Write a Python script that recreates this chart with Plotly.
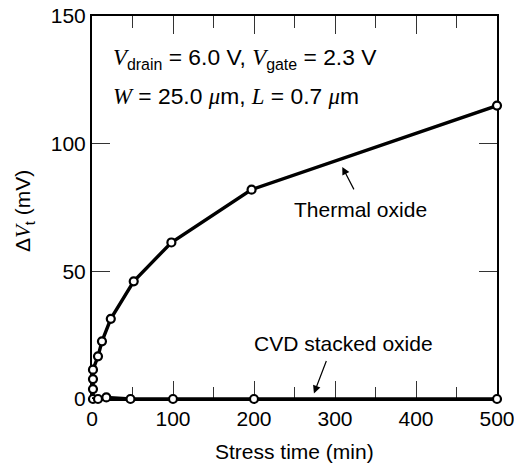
import plotly.graph_objects as go

# Threshold-voltage shift vs. stress time for two gate oxides
thermal_time = [1.2, 1.2, 1.2, 1.2, 7.4, 12.3, 23.2, 51.5, 98, 197, 500]
thermal_dvt = [0, 3.9, 7.8, 11.5, 16.7, 22.6, 31.4, 46.1, 61.3, 82, 114.9]

cvd_time = [-2.8, 7.4, 17.7, 47.5, 100, 200, 500]
cvd_dvt = [0, 0, 0.6, 0, 0, 0, 0]

x_ticks = [0, 100, 200, 300, 400, 500]
x_minor_ticks = [50, 150, 250, 350, 450]
y_ticks = [0, 50, 100, 150]

SANS = "Liberation Sans, Arial, sans-serif"
SERIF_I = "font-family:Liberation Serif;font-style:italic"
FS = 21

fig = go.Figure()
for xs, ys in [(thermal_time, thermal_dvt), (cvd_time, cvd_dvt)]:
    fig.add_trace(go.Scatter(
        x=xs, y=ys, mode="lines+markers",
        line=dict(color="black", width=3.4),
        marker=dict(symbol="circle", size=8, color="white",
                    line=dict(color="black", width=2.2)),
        cliponaxis=False, showlegend=False,
    ))

# Empty traces that keep the extra tick-only axes alive
for xa, ya in [("x2", "y"), ("x3", "y"), ("x4", "y"), ("x", "y2")]:
    fig.add_trace(go.Scatter(x=[None], y=[None], xaxis=xa, yaxis=ya,
                             showlegend=False, hoverinfo="skip"))

tick_style = dict(ticks="inside", tickcolor="#333", tickwidth=1, automargin=False,
                  showgrid=False, zeroline=False, layer="below traces")
label_font = dict(family=SANS, size=FS, color="black")

fig.update_layout(
    xaxis=dict(range=[0, 500], tickvals=x_ticks, ticklen=18,
               showline=True, linecolor="black", linewidth=2, mirror=True,
               tickfont=label_font, ticklabeloverflow="allow", **tick_style),
    yaxis=dict(range=[0, 150], tickvals=y_ticks, ticklen=18,
               showline=True, linecolor="black", linewidth=2, mirror=True,
               tickfont=label_font, **tick_style),
    # minor ticks along the bottom
    xaxis2=dict(range=[0, 500], overlaying="x", side="bottom", tickvals=x_minor_ticks,
                ticklen=12, showticklabels=False, showline=False, **tick_style),
    # major and minor ticks along the top
    xaxis3=dict(range=[0, 500], overlaying="x", side="top", tickvals=x_ticks[1:-1],
                ticklen=18, showticklabels=False, showline=False, **tick_style),
    xaxis4=dict(range=[0, 500], overlaying="x", side="top", tickvals=x_minor_ticks,
                ticklen=12, showticklabels=False, showline=False, **tick_style),
    # ticks along the right edge
    yaxis2=dict(range=[0, 150], overlaying="y", side="right", tickvals=y_ticks[1:-1],
                ticklen=18, showticklabels=False, showline=False, **tick_style),
)

line1 = (f'<span style="{SERIF_I}">V</span><sub>drain</sub> = 6.0 V, '
         f'<span style="{SERIF_I}">V</span><sub>gate</sub> = 2.3 V')
line2 = (f'<span style="{SERIF_I}">W</span> = 25.0 <span style="{SERIF_I}">μ</span>m, '
         f'<span style="{SERIF_I}">L</span> = 0.7 <span style="{SERIF_I}">μ</span>m')

ann_font = dict(family=SANS, size=FS, color="black")
param_font = dict(family=SANS, size=22.8, color="black")
annotations = [
    dict(x=24, y=133.5, xref="x", yref="y", text=line1, showarrow=False,
         xanchor="left", yanchor="middle", font=param_font),
    dict(x=24, y=118.8, xref="x", yref="y", text=line2, showarrow=False,
         xanchor="left", yanchor="middle", font=param_font),
    dict(x=332, y=74.4, xref="x", yref="y", text="Thermal oxide", showarrow=False,
         xanchor="center", yanchor="middle", font=ann_font),
    dict(x=309, y=90.9, ax=324.3, ay=81.5, xref="x", yref="y", axref="x", ayref="y",
         text="", showarrow=True, arrowhead=2, arrowsize=1.3, arrowwidth=1.2,
         arrowcolor="black"),
    dict(x=311, y=21.9, xref="x", yref="y", text="CVD stacked oxide", showarrow=False,
         xanchor="center", yanchor="middle", font=ann_font),
    dict(x=274, y=2.2, ax=290, ay=15.5, xref="x", yref="y", axref="x", ayref="y",
         text="", showarrow=True, arrowhead=2, arrowsize=1.3, arrowwidth=1.2,
         arrowcolor="black"),
    dict(x=0.5, y=-0.1375, xref="paper", yref="paper", text="Stress time (min)",
         showarrow=False, xanchor="center", yanchor="middle", font=ann_font),
    dict(x=-0.166, y=0.49, xref="paper", yref="paper",
         text=f'Δ<span style="{SERIF_I}">V</span><sub>t</sub> (mV)',
         textangle=-90, showarrow=False, xanchor="center", yanchor="middle",
         font=ann_font),
]

fig.update_layout(
    width=514, height=466,
    margin=dict(l=92, r=17, t=16, b=67, pad=0, autoexpand=False),
    paper_bgcolor="white", plot_bgcolor="white",
    annotations=annotations,
)

fig.write_html("out.html", config={"displayModeBar": False})
